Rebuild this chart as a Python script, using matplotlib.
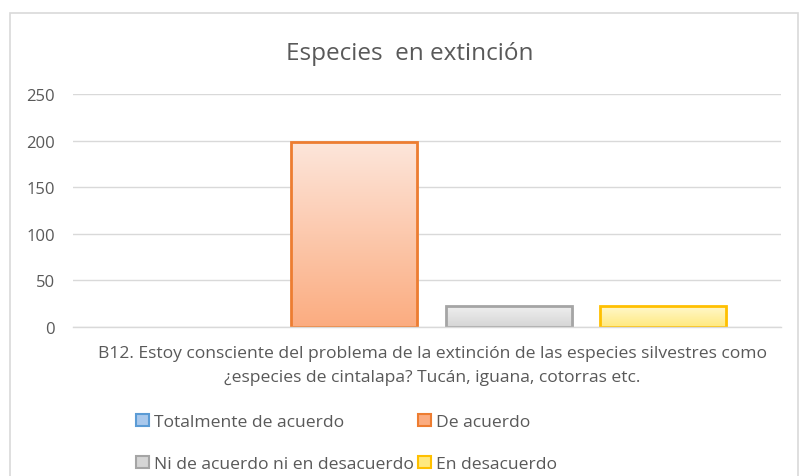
import numpy as np
import matplotlib
matplotlib.use('Agg')
import matplotlib.pyplot as plt
from matplotlib.patches import Rectangle, Patch
from matplotlib.colors import LinearSegmentedColormap

plt.rcParams['font.family'] = ['Open Sans', 'DejaVu Sans']

title = 'Especies  en extinción'
category = ('B12. Estoy consciente del problema de la extinción de las especies silvestres como\n'
            '¿especies de cintalapa? Tucán, iguana, cotorras etc.')
series = ['Totalmente de acuerdo', 'De acuerdo',
          'Ni de acuerdo ni en desacuerdo', 'En desacuerdo']
values = [0, 199, 22, 22]
y_ticks = [0, 50, 100, 150, 200, 250]

# (edge, top of gradient, bottom of gradient)
colors = [('#5B9BD5', '#DCE9F6', '#A9C8EC'),
          ('#ED7D31', '#FDE6DB', '#FBAC80'),
          ('#A5A5A5', '#EFEFEF', '#D5D5D5'),
          ('#FFC000', '#FFF8CC', '#FFE97F')]

txt = '#595959'
grid = '#D9D9D9'

fig = plt.figure(figsize=(7.99, 4.77), dpi=100)
ax = fig.add_axes([73 / 799, 1 - 328 / 477, 708 / 799, 233 / 477])

# chart border
fig.patches.append(Rectangle((10 / 799, -0.1), 788 / 799, 1.1 - 14 / 477,
                             transform=fig.transFigure, fill=False,
                             edgecolor=grid, linewidth=1.2))

step = 0.2185
width = 0.178
for i, (name, v, (ec, c_top, c_bot)) in enumerate(zip(series, values, colors)):
    x = (i - 1.5) * step
    if v <= 0:
        continue
    # soft shadow
    ax.bar(x + 0.003, v, width=width, bottom=-2, color='#000000', alpha=0.08,
           linewidth=0, zorder=1.5)
    bar = ax.bar(x, v, width=width, color='none', edgecolor=ec, linewidth=2,
                 zorder=3)[0]
    cmap = LinearSegmentedColormap.from_list(name, [c_bot, c_top])
    grad = np.linspace(0, 1, 256).reshape(-1, 1)
    im = ax.imshow(grad, cmap=cmap, origin='lower', aspect='auto',
                   extent=(x - width / 2, x + width / 2, 0, v), zorder=2)
    im.set_clip_path(bar)

ax.set_xlim(-0.506, 0.494)
ax.set_ylim(0, 250)
ax.set_yticks(y_ticks)
ax.set_yticklabels([str(t) for t in y_ticks], color=txt, fontsize=12)
ax.tick_params(axis='y', length=0, pad=13)
ax.set_xticks([])
ax.grid(axis='y', color=grid, linewidth=1, zorder=0)
for s in ['top', 'left', 'right']:
    ax.spines[s].set_visible(False)
ax.spines['bottom'].set_color(grid)
ax.spines['bottom'].set_linewidth(1)
ax.spines['bottom'].set_zorder(4)

fig.text(0.513, 1 - 60 / 477, title, ha='center', va='baseline',
         fontsize=17.5, color=txt)
fig.text(432 / 799, 1 - 346 / 477, category, ha='center', va='top',
         fontsize=12.6, color=txt, linespacing=1.68)

handles = [Patch(facecolor=c_bot, edgecolor=ec, linewidth=1.5)
           for ec, c_top, c_bot in colors]
order = [0, 2, 1, 3]
fig.legend([handles[i] for i in order], [series[i] for i in order],
           ncol=2, loc='upper left', bbox_to_anchor=(136 / 799, 1 - 415 / 477),
           frameon=False, fontsize=12.6, labelcolor=txt,
           handlelength=0.72, handleheight=0.72, handletextpad=0.3,
           columnspacing=0.25, labelspacing=1.45, borderpad=0, borderaxespad=0)

fig.savefig('out.png', dpi=100)
